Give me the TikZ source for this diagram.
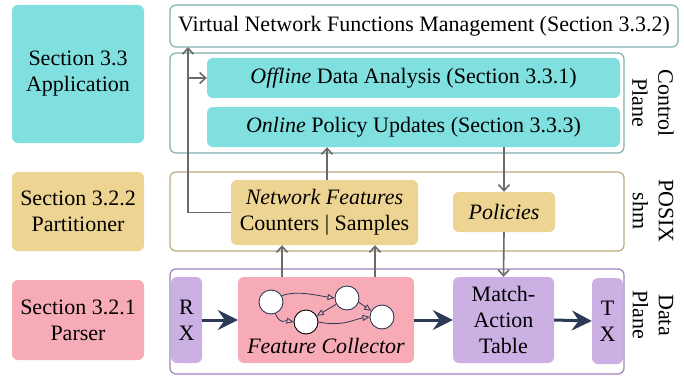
\documentclass[tikz,border=0pt]{standalone}
\usepackage{fontspec}
\setmainfont{Liberation Serif}
\usetikzlibrary{positioning,arrows.meta,calc}
\definecolor{appcyan}{HTML}{80E0DF}
\definecolor{partan}{HTML}{EDD492}
\definecolor{parspink}{HTML}{F7ABB7}
\definecolor{dpurple}{HTML}{CBB0E4}
\definecolor{ctrlline}{HTML}{82AFAE}
\definecolor{posixline}{HTML}{BCA982}
\definecolor{dataline}{HTML}{9F84BC}
\definecolor{arrgray}{HTML}{6A6A6A}
\definecolor{navy}{HTML}{2C3A55}

\begin{document}
\begin{tikzpicture}[
    x=1pt, y=-1pt,
    font=\fontsize{22}{26}\selectfont,
    sect/.style={rectangle, rounded corners=6pt, inner sep=0pt, align=center},
    plane/.style={rectangle, rounded corners=6pt, draw, line width=1.2pt, fill=white},
    garrow/.style={draw=arrgray, line width=1.6pt, -{Straight Barb[length=6pt,width=11pt]}},
    narrow/.style={draw=navy, line width=3pt, -{Stealth[length=20pt,width=20pt,inset=7pt]}},
    fnode/.style={circle, draw=navy, fill=white, line width=0.9pt, minimum size=24pt, inner sep=0pt},
    fedge/.style={draw=navy, line width=0.8pt, -{Triangle[open,length=7pt,width=6pt]}},
    side/.style={rotate=-90, align=center, inner sep=0pt}
]
\useasboundingbox (0,0) rectangle (684,377);

% section boxes on the left
\node[sect, fill=appcyan, minimum width=132pt, minimum height=138pt] (app) at (78,74) {Section 3.3\\Application};
\node[sect, fill=partan, minimum width=132pt, minimum height=79pt] (part) at (78,211.5) {Section 3.2.2\\Partitioner};
\node[sect, fill=parspink, minimum width=132pt, minimum height=80pt] (pars) at (78,320) {Section 3.2.1\\Parser};

% planes
\node[plane, draw=ctrlline, minimum width=508pt, minimum height=42pt] (vnf) at (424,26) {Virtual Network Functions Management (Section 3.3.2)};
\node[plane, draw=ctrlline, minimum width=454pt, minimum height=100pt] (ctrl) at (397,103) {};
\node[plane, draw=posixline, minimum width=454pt, minimum height=79pt] (posix) at (397,211.5) {};
\node[plane, draw=dataline, minimum width=454pt, minimum height=105pt] (data) at (397,321.5) {};

% control plane
\node[sect, fill=appcyan, minimum width=413pt, minimum height=40pt] (offline) at (413.5,78) {\textit{Offline} Data Analysis (Section 3.3.1)};
\node[sect, fill=appcyan, minimum width=413pt, minimum height=40pt] (online) at (413.5,127) {\textit{Online} Policy Updates (Section 3.3.3)};

% shared memory
\node[sect, fill=partan, minimum width=187pt, minimum height=65pt] (nf) at (324.5,212.5) {\textit{Network Features}\\Counters | Samples};
\node[sect, fill=partan, minimum width=102pt, minimum height=40pt] (pol) at (504,212) {\textit{Policies}};

% data plane
\node[sect, fill=dpurple, minimum width=31pt, minimum height=86pt] (rx) at (186.5,320) {R\\X};
\node[sect, fill=parspink, minimum width=176pt, minimum height=86pt] (fc) at (326,320) {};
\node (fclabel) at (326,346) {\textit{Feature Collector}};
\node[sect, fill=dpurple, minimum width=101pt, minimum height=86pt] (mat) at (503.5,320) {Match-\\Action\\Table};
\node[sect, fill=dpurple, minimum width=31pt, minimum height=86pt] (tx) at (607.5,321) {T\\X};

% feature graph
\node[fnode] (c1) at (271,302) {};
\node[fnode] (c2) at (347,298) {};
\node[fnode, draw=black] (c3) at (306,322) {};
\node[fnode] (c4) at (382,317) {};
\draw[fedge] (c1.30) .. controls +(15,-6) and +(-15,-2) .. (c2.west);
\draw[fedge] (c1.-70) .. controls +(6,12) and +(-10,-2) .. (c3.west);
\draw[fedge] (c2.-150) -- (c3.30);
\draw[fedge] (c2.-20) -- (c4.150);
\draw[fedge] (c3.east) .. controls +(25,5) and +(-15,2) .. (c4.west);

% side labels
\node[side] (ctrllbl) at (653,103) {Control\\Plane};
\node[side] (posixlbl) at (653,211) {POSIX\\shm};
\node[side] (datalbl) at (653,315) {Data\\Plane};

% gray connectors
\coordinate (vnfin) at (188,47);
\coordinate (split) at (188,78);
\draw[garrow] (nf.west) -| (vnfin);
\draw[garrow] (split) -- (offline.west);
\draw[garrow] ([xshift=2.5pt]nf.north) -- ([xshift=2.5pt]nf.north |- online.south);
\draw[garrow] (online.south -| pol.north) -- (pol.north);
\draw[garrow] (pol.south) -- (mat.north);
\draw[garrow] ([xshift=-44pt]fc.north) -- ([xshift=-44pt]fc.north |- nf.south);
\draw[garrow] ([xshift=49pt]fc.north) -- ([xshift=49pt]fc.north |- nf.south);

% packet path
\draw[narrow] (rx.east) -- (fc.west);
\draw[narrow] (fc.east) -- (mat.west);
\draw[narrow] (mat.east) -- (tx.west);
\end{tikzpicture}
\end{document}
